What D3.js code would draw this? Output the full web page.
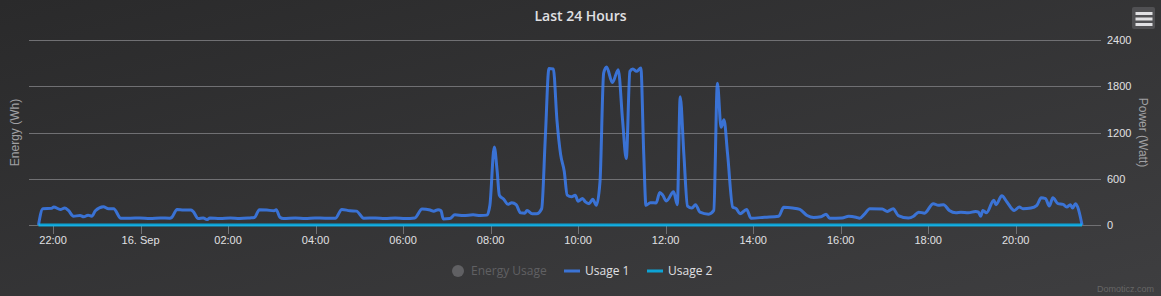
<!DOCTYPE html>
<html>
<head>
<meta charset="UTF-8">
<title>Last 24 Hours</title>
<script src="https://d3js.org/d3.v7.min.js"></script>
<style>
  html, body { margin: 0; padding: 0; background: #2a2a2b; overflow: hidden; }
  svg { display: block; }
</style>
</head>
<body>
<svg id="chart" width="1161" height="296"></svg>
<script>
// ---- data ----
const START_DAY = "2015-09-15";
const RANGE_START = "2015-09-15 21:27";   // x axis extent
const RANGE_END = "2015-09-16 21:57";

const usage1Times = [
  "21:40","21:46","21:58","22:01","22:10","22:16","22:21","22:28","22:37","22:42",
  "22:48","22:53","22:58","23:09","23:16","23:23","23:33","23:46","23:59","00:13",
  "00:27","00:40","00:43","00:50","00:59","01:09","01:12","01:19","01:26","01:31",
  "01:35","01:49","02:03","02:16","02:30","02:36","02:43","02:53","03:03","03:06",
  "03:11","03:16","03:32","03:46","03:59","04:13","04:27","04:36","04:47","04:56",
  "05:06","05:22","05:35","05:49","06:03","06:16","06:26","06:37","06:42","06:48",
  "06:52","06:55","07:04","07:11","07:23","07:36","07:46","07:55","07:59","08:05",
  "08:09","08:12","08:18","08:24","08:29","08:35","08:41","08:47","08:50","08:57",
  "09:03","09:10","09:15","09:20","09:26","09:31","09:36","09:41","09:45","09:51",
  "09:56","10:00","10:06","10:10","10:15","10:20","10:25","10:30","10:35","10:39",
  "10:47","10:55","11:01","11:06","11:11","11:15","11:20","11:26","11:30","11:33",
  "11:39","11:47","11:52","11:56","12:01","12:11","12:16","12:20","12:25","12:30",
  "12:36","12:41","12:47","12:59","13:06","13:11","13:16","13:20","13:25","13:32",
  "13:37","13:42","13:51","13:57","14:16","14:35","14:42","14:54","15:04","15:14",
  "15:23","15:33","15:40","15:45","16:02","16:11","16:21","16:26","16:33","16:40",
  "16:57","17:04","17:12","17:19","17:33","17:40","17:47","17:55","18:07","18:14",
  "18:21","18:29","18:38","18:45","18:55","19:05","19:09","19:12","19:15","19:20",
  "19:30","19:33","19:41","19:48","19:58","20:05","20:10","20:21","20:29","20:35",
  "20:41","20:46","20:51","20:58","21:05","21:10","21:15","21:18","21:22","21:25",
  "21:31"
];
const usage1Values = [
  0,211,216,233,202,220,189,114,123,106,
  128,114,185,238,211,211,88,88,92,84,
  92,88,101,202,194,194,176,84,92,70,
  92,84,92,84,92,97,198,194,185,198,
  101,84,92,84,92,88,88,202,185,180,
  88,92,84,92,84,92,207,194,180,198,
  185,79,84,132,123,132,123,128,255,1012,
  695,387,334,268,290,264,158,154,189,145,
  145,211,1135,2030,2024,1355,915,695,387,365,
  387,308,343,299,277,334,255,563,1971,2050,
  1848,2015,1355,862,1993,2024,1993,2037,915,255,
  290,286,422,387,312,431,264,1663,915,246,
  220,264,167,141,189,1839,1267,1364,915,233,
  211,145,202,88,101,114,229,220,202,123,
  97,106,141,88,92,114,101,88,145,211,
  207,176,211,123,92,114,167,154,277,255,
  264,189,158,167,158,176,167,114,189,158,
  321,264,378,299,189,233,211,220,255,352,
  343,246,352,277,268,233,264,220,277,233,
  0
];
const usage2Times = ["21:40", "21:31"];
const usage2Values = [0, 0];

const powerTicks = [0, 600, 1200, 1800, 2400];
const legendItems = ["Energy Usage", "Usage 1", "Usage 2"];

// ---- helpers ----
const parse = d3.timeParse("%Y-%m-%d %H:%M");
const day1 = parse(START_DAY + " 00:00");
// clock times in order; rolling past midnight moves to the next day
function toDates(times) {
  let offset = 0, prev = -1;
  return times.map(t => {
    const [h, m] = t.split(":").map(Number);
    if (h * 60 + m < prev) offset = 1;
    prev = h * 60 + m;
    return new Date(+d3.timeDay.offset(day1, offset) + (h * 60 + m) * 60000);
  });
}

const svg = d3.select("#chart");
const W = 1161, H = 296;
const plot = { left: 29, right: 1101, top: 40, bottom: 225 };

// background
const defs = svg.append("defs");
const grad = defs.append("linearGradient").attr("id", "bg")
  .attr("x1", 0).attr("y1", 0).attr("x2", 1).attr("y2", 1);
grad.append("stop").attr("offset", 0).attr("stop-color", "#2a2a2b");
grad.append("stop").attr("offset", 1).attr("stop-color", "#3e3e40");
svg.append("rect").attr("width", W).attr("height", H).attr("fill", "url(#bg)");

// scales
const xs = parse(RANGE_START), xe = parse(RANGE_END);
const x = d3.scaleTime().domain([xs, xe]).range([plot.left, plot.right]);
const y = d3.scaleLinear().domain([0, 2400]).range([plot.bottom, plot.top]);

const tickFont = "'Liberation Sans', Arial, sans-serif";
const uiFont = "'Open Sans', 'DejaVu Sans', sans-serif";

// grid + right axis labels
svg.append("g").selectAll("line").data(powerTicks).join("line")
  .attr("x1", plot.left).attr("x2", plot.right)
  .attr("y1", d => Math.round(y(d)) + 0.5).attr("y2", d => Math.round(y(d)) + 0.5)
  .attr("stroke", "#707073").attr("stroke-width", 1);

svg.append("g").selectAll("text").data(powerTicks).join("text")
  .attr("x", plot.right + 6).attr("y", d => y(d) + 4)
  .attr("fill", "#E0E0E3").attr("font-family", tickFont).attr("font-size", 11)
  .text(d => d);

// x axis
const xTicks = d3.timeHour.every(2).range(xs, xe);
const fmt = d => d.getHours() === 0 ? d3.timeFormat("%d. %b")(d) : d3.timeFormat("%H:%M")(d);
const xg = svg.append("g");
xg.selectAll("line").data(xTicks).join("line")
  .attr("x1", d => Math.round(x(d)) + 0.5).attr("x2", d => Math.round(x(d)) + 0.5)
  .attr("y1", plot.bottom).attr("y2", plot.bottom + 9)
  .attr("stroke", "#707073");
xg.selectAll("text").data(xTicks).join("text")
  .attr("x", d => x(d)).attr("y", plot.bottom + 19)
  .attr("text-anchor", "middle")
  .attr("fill", "#E0E0E3").attr("font-family", tickFont).attr("font-size", 11)
  .text(fmt);

// axis titles
svg.append("text")
  .attr("transform", `translate(19,${(plot.top + plot.bottom) / 2}) rotate(-90)`)
  .attr("text-anchor", "middle").attr("fill", "#A0A0A3")
  .attr("font-family", tickFont).attr("font-size", 12)
  .text("Energy (Wh)");
svg.append("text")
  .attr("transform", `translate(1139,${(plot.top + plot.bottom) / 2}) rotate(90)`)
  .attr("text-anchor", "middle").attr("fill", "#A0A0A3")
  .attr("font-family", tickFont).attr("font-size", 12)
  .text("Power (Watt)");

// series
const line = d3.line().x(d => x(d[0])).y(d => y(d[1])).curve(d3.curveMonotoneX);
const s1 = d3.zip(toDates(usage1Times), usage1Values);
const s2 = d3.zip(toDates(usage2Times), usage2Values);
svg.append("path").datum(s1).attr("d", line)
  .attr("fill", "none").attr("stroke", "rgba(60,130,252,0.8)")
  .attr("stroke-width", 3).attr("stroke-linejoin", "round");
svg.append("path").datum(s2).attr("d", line)
  .attr("fill", "none").attr("stroke", "rgba(3,190,252,0.8)")
  .attr("stroke-width", 3);

// title
svg.append("text").attr("x", W / 2).attr("y", 21)
  .attr("text-anchor", "middle").attr("fill", "#E0E0E3")
  .attr("font-family", uiFont).attr("font-size", 14).attr("font-weight", 600)
  .text("Last 24 Hours");

// legend
const lg = svg.append("g").attr("font-family", uiFont).attr("font-size", 12);
const ly = 271;
lg.append("circle").attr("cx", 458).attr("cy", ly).attr("r", 6).attr("fill", "#606063");
lg.append("text").attr("x", 471).attr("y", ly + 4).attr("fill", "#606063").text(legendItems[0]);
lg.append("line").attr("x1", 564).attr("x2", 580).attr("y1", ly).attr("y2", ly)
  .attr("stroke", "rgba(60,130,252,0.8)").attr("stroke-width", 3);
lg.append("text").attr("x", 585).attr("y", ly + 4).attr("fill", "#E0E0E3").text(legendItems[1]);
lg.append("line").attr("x1", 647).attr("x2", 663).attr("y1", ly).attr("y2", ly)
  .attr("stroke", "rgba(3,190,252,0.8)").attr("stroke-width", 3);
lg.append("text").attr("x", 668).attr("y", ly + 4).attr("fill", "#E0E0E3").text(legendItems[2]);

// export menu button
const mb = svg.append("g");
mb.append("rect").attr("x", 1132).attr("y", 7).attr("width", 23).attr("height", 22)
  .attr("rx", 2).attr("fill", "#505053");
[13.5, 19, 24.5].forEach(yy => {
  mb.append("line").attr("x1", 1135.5).attr("x2", 1152.5).attr("y1", yy).attr("y2", yy)
    .attr("stroke", "#E0E0E3").attr("stroke-width", 3);
});

// credits
svg.append("text").attr("x", 1154).attr("y", 292).attr("text-anchor", "end")
  .attr("fill", "#666").attr("font-family", tickFont).attr("font-size", 9)
  .text("Domoticz.com");
</script>
</body>
</html>
